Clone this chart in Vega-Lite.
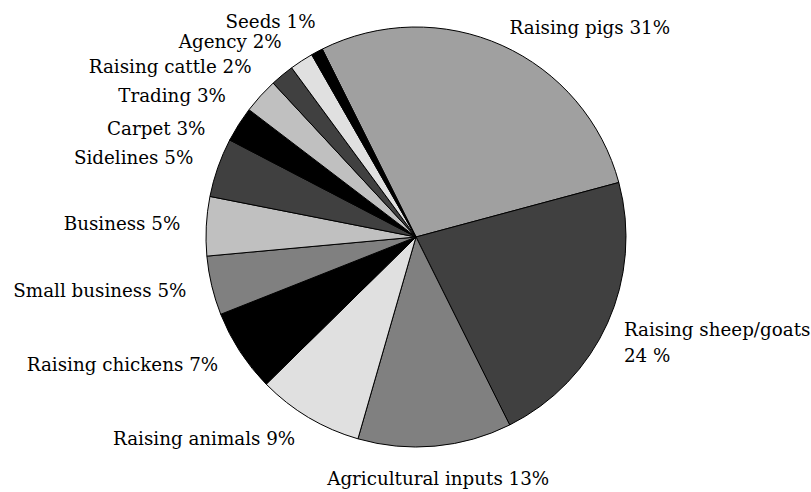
{
  "$schema": "https://vega.github.io/schema/vega-lite/v6.json",
  "width": 790,
  "height": 474,
  "padding": {"left": 21, "top": 0, "right": 0, "bottom": 18},
  "autosize": {"type": "none"},
  "background": "white",
  "config": {"view": {"stroke": null}},
  "data": {
    "values": [
      {"category": "Raising pigs", "value": 31, "label": "Raising pigs 31%"},
      {"category": "Raising sheep/goats", "value": 24, "label": "Raising sheep/goats\n24 %"},
      {"category": "Agricultural inputs", "value": 13, "label": "Agricultural inputs 13%"},
      {"category": "Raising animals", "value": 9, "label": "Raising animals 9%"},
      {"category": "Raising chickens", "value": 7, "label": "Raising chickens 7%"},
      {"category": "Small business", "value": 5, "label": "Small business 5%"},
      {"category": "Business", "value": 5, "label": "Business 5%"},
      {"category": "Sidelines", "value": 5, "label": "Sidelines 5%"},
      {"category": "Carpet", "value": 3, "label": "Carpet 3%"},
      {"category": "Trading", "value": 3, "label": "Trading 3%"},
      {"category": "Raising cattle", "value": 2, "label": "Raising cattle 2%"},
      {"category": "Agency", "value": 2, "label": "Agency 2%"},
      {"category": "Seeds", "value": 1, "label": "Seeds 1%"}
    ]
  },
  "transform": [
    {"window": [{"op": "row_number", "as": "idx"}, {"op": "sum", "field": "value", "as": "cum"}], "frame": [null, 0]},
    {"joinaggregate": [{"op": "count", "as": "n"}, {"op": "sum", "field": "value", "as": "total"}]}
  ],
  "layer": [
    {
      "mark": {"type": "arc", "outerRadius": 210, "stroke": "black", "strokeWidth": 1},
      "encoding": {
        "theta": {"field": "value", "type": "quantitative", "stack": true,
          "scale": {"domain": [0, 110], "range": [-0.4625, 5.8207]}},
        "order": {"field": "idx", "type": "quantitative"},
        "color": {
          "field": "category", "type": "nominal", "legend": null,
          "scale": {
            "domain": ["Raising pigs", "Raising sheep/goats", "Agricultural inputs", "Raising animals", "Raising chickens", "Small business", "Business", "Sidelines", "Carpet", "Trading", "Raising cattle", "Agency", "Seeds"],
            "range": ["#a0a0a0", "#404040", "#808080", "#e0e0e0", "#000000", "#808080", "#c0c0c0", "#404040", "#000000", "#c0c0c0", "#404040", "#e0e0e0", "#000000"]
          }
        }
      }
    },
    {
      "transform": [
        {"calculate": "datum.value <= 3 && datum.cum > datum.total * 0.8 ? datum.total + 0.4 - (datum.n - datum.idx) * 2.9 : datum.cum - datum.value / 2", "as": "labelPos"}
      ],
      "mark": {
        "type": "text",
        "radius": {"expr": "datum.cum <= 55 ? 228 : datum.cum <= 68 ? 244 : 236"},
        "align": {"expr": "datum.cum <= 55 ? 'left' : datum.cum <= 68 ? 'center' : 'right'"},
        "baseline": "middle",
        "lineBreak": "\n",
        "lineHeight": 26,
        "font": "DejaVu Serif",
        "fontSize": 18.3,
        "color": "black"
      },
      "encoding": {
        "theta": {"field": "labelPos", "type": "quantitative", "stack": null,
          "scale": {"domain": [0, 110], "range": [-0.4625, 5.8207]}},
        "text": {"field": "label", "type": "nominal"}
      }
    }
  ]
}
